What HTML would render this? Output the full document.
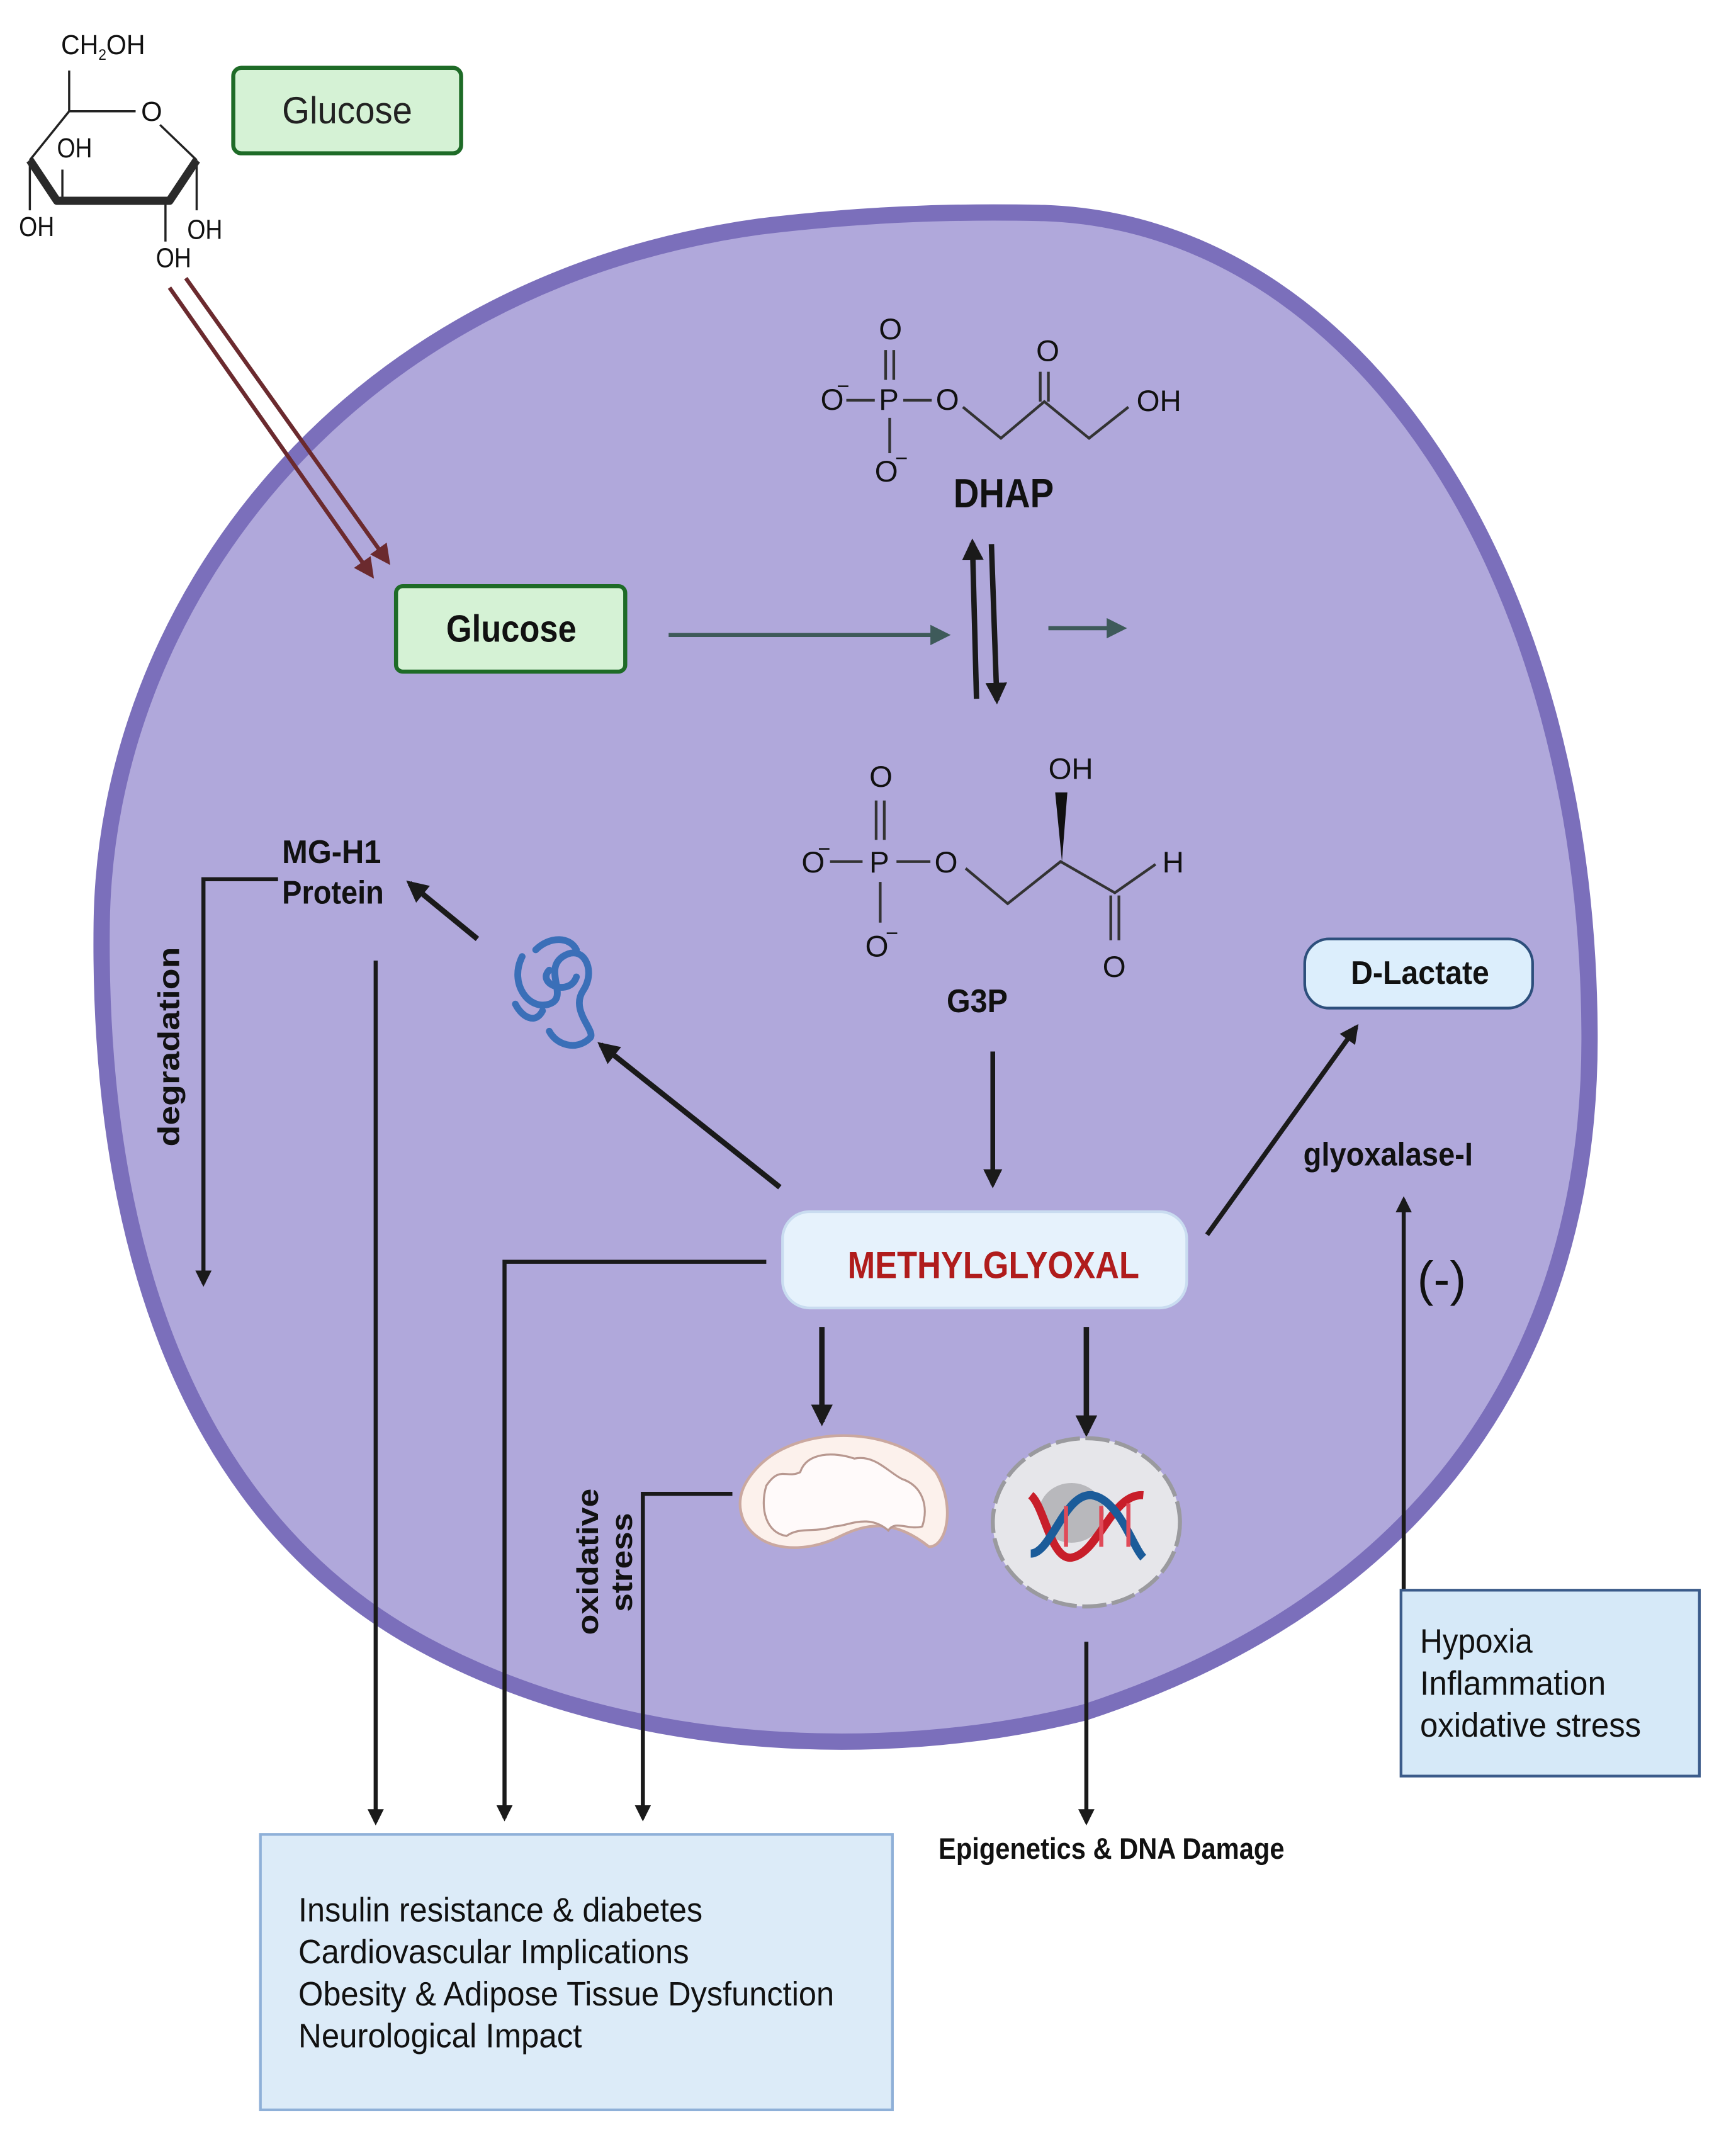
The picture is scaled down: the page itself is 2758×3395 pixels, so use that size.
<!DOCTYPE html>
<html><head><meta charset="utf-8">
<style>
html,body{margin:0;padding:0;background:#fff;}
svg{display:block;}
text{font-family:"Liberation Sans Narrow","Liberation Sans",sans-serif;}
</style></head>
<body>
<svg width="2758" height="3395" viewBox="0 0 1280 1575" preserveAspectRatio="none" xmlns="http://www.w3.org/2000/svg">
<defs>
<marker id="ab" viewBox="0 0 10 10" refX="8" refY="5" markerWidth="4" markerHeight="4" orient="auto"><path d="M0,0 L10,5 L0,10 z" fill="#1a1a1a"/></marker>
<marker id="ag" viewBox="0 0 10 10" refX="8" refY="5" markerWidth="5" markerHeight="5" orient="auto"><path d="M0,0 L10,5 L0,10 z" fill="#3e5a5a"/></marker>
<marker id="ar" viewBox="0 0 10 10" refX="8" refY="5" markerWidth="5" markerHeight="5" orient="auto"><path d="M0,0 L10,5 L0,10 z" fill="#6b2a2e"/></marker>
</defs>
<rect width="1280" height="1575" fill="#fff"/>
<!-- cell -->
<path d="M770,157 C1000,165 1170,420 1172,760 C1174,1000 1050,1180 800,1262 C650,1300 450,1292 300,1205 C130,1105 72,900 75,680 C78,450 250,210 560,167 C650,156 720,156 770,157 Z" fill="#b0a8db" stroke="#7b6fbb" stroke-width="12"/>

<!-- glucose ring -->
<g stroke="#222" stroke-width="1.6" fill="none">
<line x1="51" y1="52" x2="51" y2="82"/>
<line x1="51" y1="82" x2="100" y2="82"/>
<line x1="51" y1="82" x2="22" y2="118"/>
<line x1="118" y1="92" x2="145" y2="118"/>
<line x1="22" y1="118" x2="22" y2="155"/>
<line x1="145" y1="118" x2="145" y2="155"/>
<line x1="46" y1="125" x2="46" y2="145"/>
<line x1="122" y1="148" x2="122" y2="178"/>
</g>
<path d="M22,118 L42,148 L125,148 L145,118" fill="none" stroke="#2a2a2a" stroke-width="6" stroke-linejoin="round"/>
<g font-size="20" fill="#111">
<text x="45" y="40" textLength="62" lengthAdjust="spacingAndGlyphs">CH<tspan font-size="11" dy="4">2</tspan><tspan dy="-4">OH</tspan></text>
<text x="104" y="89">O</text>
<text x="42" y="116" textLength="26" lengthAdjust="spacingAndGlyphs">OH</text>
<text x="14" y="174" textLength="26" lengthAdjust="spacingAndGlyphs">OH</text>
<text x="138" y="176" textLength="26" lengthAdjust="spacingAndGlyphs">OH</text>
<text x="115" y="197" textLength="26" lengthAdjust="spacingAndGlyphs">OH</text>
</g>
<!-- outer glucose box -->
<rect x="172" y="50" width="168" height="63" rx="6" fill="#d5f2d5" stroke="#1e6b27" stroke-width="3"/>
<text x="208" y="91" font-size="28" textLength="96" lengthAdjust="spacingAndGlyphs" fill="#222">Glucose</text>

<!-- red arrows -->
<line x1="125" y1="212" x2="274" y2="424" stroke="#6b2a2e" stroke-width="3" marker-end="url(#ar)"/>
<line x1="137" y1="205" x2="286" y2="414" stroke="#6b2a2e" stroke-width="3" marker-end="url(#ar)"/>

<!-- inner glucose -->
<rect x="292" y="432" width="169" height="63" rx="5" fill="#d5f2d5" stroke="#1e6b27" stroke-width="3"/>
<text x="329" y="473" font-size="28" font-weight="bold" textLength="96" lengthAdjust="spacingAndGlyphs" fill="#111">Glucose</text>

<line x1="493" y1="468" x2="698" y2="468" stroke="#3e5a5a" stroke-width="3" marker-end="url(#ag)"/>
<line x1="773" y1="463" x2="828" y2="463" stroke="#3e5a5a" stroke-width="3" marker-end="url(#ag)"/>
<line x1="720" y1="515" x2="717" y2="400" stroke="#1a1a1a" stroke-width="4" marker-end="url(#ab)"/>
<line x1="731" y1="401" x2="735" y2="516" stroke="#1a1a1a" stroke-width="4" marker-end="url(#ab)"/>

<!-- DHAP -->
<g font-size="22" font-family="Liberation Sans" fill="#111">
<text x="648" y="250">O</text>
<text x="605" y="302">O</text><text x="617" y="290" font-size="16">−</text>
<text x="648" y="302">P</text>
<text x="690" y="302">O</text>
<text x="645" y="355">O</text><text x="660" y="343" font-size="16">−</text>
<text x="764" y="266">O</text>
<text x="838" y="303">OH</text>
</g>
<g stroke="#333" stroke-width="2" fill="none">
<line x1="653" y1="258" x2="653" y2="280"/><line x1="659" y1="258" x2="659" y2="280"/>
<line x1="624" y1="295" x2="645" y2="295"/><line x1="666" y1="295" x2="687" y2="295"/>
<line x1="656" y1="308" x2="656" y2="334"/>
<polyline points="710,300 738,323 770,296 803,323 832,300"/>
<line x1="767" y1="274" x2="767" y2="296"/><line x1="773" y1="274" x2="773" y2="296"/>
</g>
<text x="703" y="374" font-size="30" font-weight="bold" textLength="74" lengthAdjust="spacingAndGlyphs" fill="#111">DHAP</text>

<!-- G3P -->
<g font-size="22" font-family="Liberation Sans" fill="#111">
<text x="641" y="580">O</text>
<text x="591" y="643">O</text><text x="603" y="631" font-size="16">−</text>
<text x="641" y="643">P</text>
<text x="689" y="643">O</text>
<text x="638" y="705">O</text><text x="653" y="693" font-size="16">−</text>
<text x="773" y="574">OH</text>
<text x="857" y="643">H</text>
<text x="813" y="720">O</text>
</g>
<g stroke="#333" stroke-width="2" fill="none">
<line x1="646" y1="590" x2="646" y2="619"/><line x1="652" y1="590" x2="652" y2="619"/>
<line x1="612" y1="635" x2="636" y2="635"/><line x1="661" y1="635" x2="686" y2="635"/>
<line x1="649" y1="650" x2="649" y2="680"/>
<polyline points="712,640 743,666 782,635 822,658 852,637"/>
<line x1="819" y1="660" x2="819" y2="693"/><line x1="825" y1="660" x2="825" y2="693"/>
</g>
<path d="M778,584 L787,584 L783,635 Z" fill="#111"/>
<text x="698" y="746" font-size="24" font-weight="bold" textLength="45" lengthAdjust="spacingAndGlyphs" fill="#111">G3P</text>

<line x1="732" y1="775" x2="732" y2="873" stroke="#1a1a1a" stroke-width="3.5" marker-end="url(#ab)"/>

<!-- MG box -->
<rect x="577" y="893" width="298" height="71" rx="20" fill="#e6f2fc" stroke="#c9dcf0" stroke-width="2"/>
<text x="625" y="942" font-size="28" font-weight="bold" textLength="215" lengthAdjust="spacingAndGlyphs" fill="#b01c1c">METHYLGLYOXAL</text>

<!-- protein arrows -->
<line x1="575" y1="875" x2="443" y2="770" stroke="#1a1a1a" stroke-width="4" marker-end="url(#ab)"/>
<line x1="352" y1="692" x2="302" y2="651" stroke="#1a1a1a" stroke-width="4" marker-end="url(#ab)"/>
<g fill="none" stroke="#3a6fb8" stroke-width="5" stroke-linecap="round">
<path d="M385,705 C375,725 390,745 405,740 C420,735 400,715 415,705 C430,695 440,715 430,730 C420,745 440,760 435,765 C425,775 410,770 405,760"/>
<path d="M395,700 C405,690 420,690 425,700 M380,740 C385,750 395,755 400,745 M405,715 C395,725 420,735 425,720"/>
</g>
<text x="208" y="636" font-size="24" font-weight="bold" textLength="73" lengthAdjust="spacingAndGlyphs" fill="#111">MG-H1</text>
<text x="208" y="666" font-size="24" font-weight="bold" textLength="75" lengthAdjust="spacingAndGlyphs" fill="#111">Protein</text>

<polyline points="205,648 150,648 150,946" fill="none" stroke="#1a1a1a" stroke-width="3" marker-end="url(#ab)"/>
<text transform="translate(132,845) rotate(-90)" font-size="22" font-weight="bold" font-family="Liberation Sans" textLength="147" lengthAdjust="spacingAndGlyphs" fill="#111">degradation</text>

<line x1="277" y1="708" x2="277" y2="1343" stroke="#1a1a1a" stroke-width="3" marker-end="url(#ab)"/>
<polyline points="565,930 372,930 372,1340" fill="none" stroke="#1a1a1a" stroke-width="3" marker-end="url(#ab)"/>
<polyline points="540,1101 474,1101 474,1340" fill="none" stroke="#1a1a1a" stroke-width="3" marker-end="url(#ab)"/>
<text transform="translate(441,1205) rotate(-90)" font-size="22" font-weight="bold" font-family="Liberation Sans" textLength="108" lengthAdjust="spacingAndGlyphs" fill="#111">oxidative</text>
<text transform="translate(466,1188) rotate(-90)" font-size="22" font-weight="bold" font-family="Liberation Sans" textLength="73" lengthAdjust="spacingAndGlyphs" fill="#111">stress</text>

<!-- mito -->
<line x1="606" y1="978" x2="606" y2="1048" stroke="#1a1a1a" stroke-width="4" marker-end="url(#ab)"/>
<path d="M560,1080 C590,1050 660,1050 690,1085 C705,1110 698,1140 685,1140 C660,1120 640,1122 620,1132 C595,1145 560,1145 548,1120 C542,1105 548,1092 560,1080 Z" fill="#fcf1ec" stroke="#caa8a0" stroke-width="2"/>
<path d="M565,1095 C575,1080 580,1090 590,1085 C595,1070 615,1070 630,1075 C645,1072 655,1085 665,1090 C680,1095 685,1110 680,1125 C670,1128 660,1120 655,1128 C640,1115 625,1125 615,1125 C600,1130 590,1125 580,1132 C565,1130 560,1112 565,1095 Z" fill="#fffafa" stroke="#b89890" stroke-width="1.5"/>

<!-- nucleus -->
<line x1="801" y1="978" x2="801" y2="1056" stroke="#1a1a1a" stroke-width="4" marker-end="url(#ab)"/>
<ellipse cx="801" cy="1122" rx="69" ry="62" fill="#e6e6ea" stroke="#9a9a9e" stroke-width="3" stroke-dasharray="18 4"/>
<ellipse cx="790" cy="1115" rx="24" ry="22" fill="#b8b8bc"/>
<path d="M760,1102 C770,1110 775,1150 790,1148 C810,1145 820,1100 843,1102" fill="none" stroke="#c81e2a" stroke-width="6"/>
<path d="M760,1145 C775,1145 785,1100 805,1102 C825,1105 835,1140 843,1148" fill="none" stroke="#1b5c9a" stroke-width="6"/>
<g stroke="#e04a58" stroke-width="3"><line x1="786" y1="1110" x2="786" y2="1140"/><line x1="812" y1="1110" x2="812" y2="1140"/><line x1="832" y1="1108" x2="832" y2="1140"/></g>

<line x1="801" y1="1210" x2="801" y2="1343" stroke="#1a1a1a" stroke-width="3" marker-end="url(#ab)"/>
<text x="692" y="1370" font-size="22" font-weight="bold" textLength="255" lengthAdjust="spacingAndGlyphs" fill="#111">Epigenetics &amp; DNA Damage</text>

<!-- D-lactate -->
<line x1="890" y1="910" x2="1000" y2="757" stroke="#1a1a1a" stroke-width="3.5" marker-end="url(#ab)"/>
<rect x="962" y="692" width="168" height="51" rx="18" fill="#dceefc" stroke="#2d4f7c" stroke-width="2"/>
<text x="996" y="725" font-size="24" font-weight="bold" textLength="102" lengthAdjust="spacingAndGlyphs" fill="#111">D-Lactate</text>
<text x="961" y="859" font-size="24" font-weight="bold" textLength="125" lengthAdjust="spacingAndGlyphs" fill="#111">glyoxalase-I</text>
<text x="1063" y="955" font-size="36" text-anchor="middle" fill="#111">(-)</text>
<line x1="1035" y1="1172" x2="1035" y2="884" stroke="#1a1a1a" stroke-width="3" marker-end="url(#ab)"/>

<rect x="1033" y="1172" width="220" height="137" fill="#d6e9f8" stroke="#3b5b8a" stroke-width="2"/>
<g font-size="25" fill="#111">
<text x="1047" y="1218" textLength="83" lengthAdjust="spacingAndGlyphs">Hypoxia</text>
<text x="1047" y="1249" textLength="137" lengthAdjust="spacingAndGlyphs">Inflammation</text>
<text x="1047" y="1280" textLength="163" lengthAdjust="spacingAndGlyphs">oxidative stress</text>
</g>

<rect x="192" y="1352" width="466" height="203" fill="#dcebf8" stroke="#8fb0d8" stroke-width="2"/>
<g font-size="25" fill="#111">
<text x="220" y="1416" textLength="298" lengthAdjust="spacingAndGlyphs">Insulin resistance &amp; diabetes</text>
<text x="220" y="1447" textLength="288" lengthAdjust="spacingAndGlyphs">Cardiovascular Implications</text>
<text x="220" y="1478" textLength="395" lengthAdjust="spacingAndGlyphs">Obesity &amp; Adipose Tissue Dysfunction</text>
<text x="220" y="1509" textLength="209" lengthAdjust="spacingAndGlyphs">Neurological Impact</text>
</g>
</svg>
</body></html>
